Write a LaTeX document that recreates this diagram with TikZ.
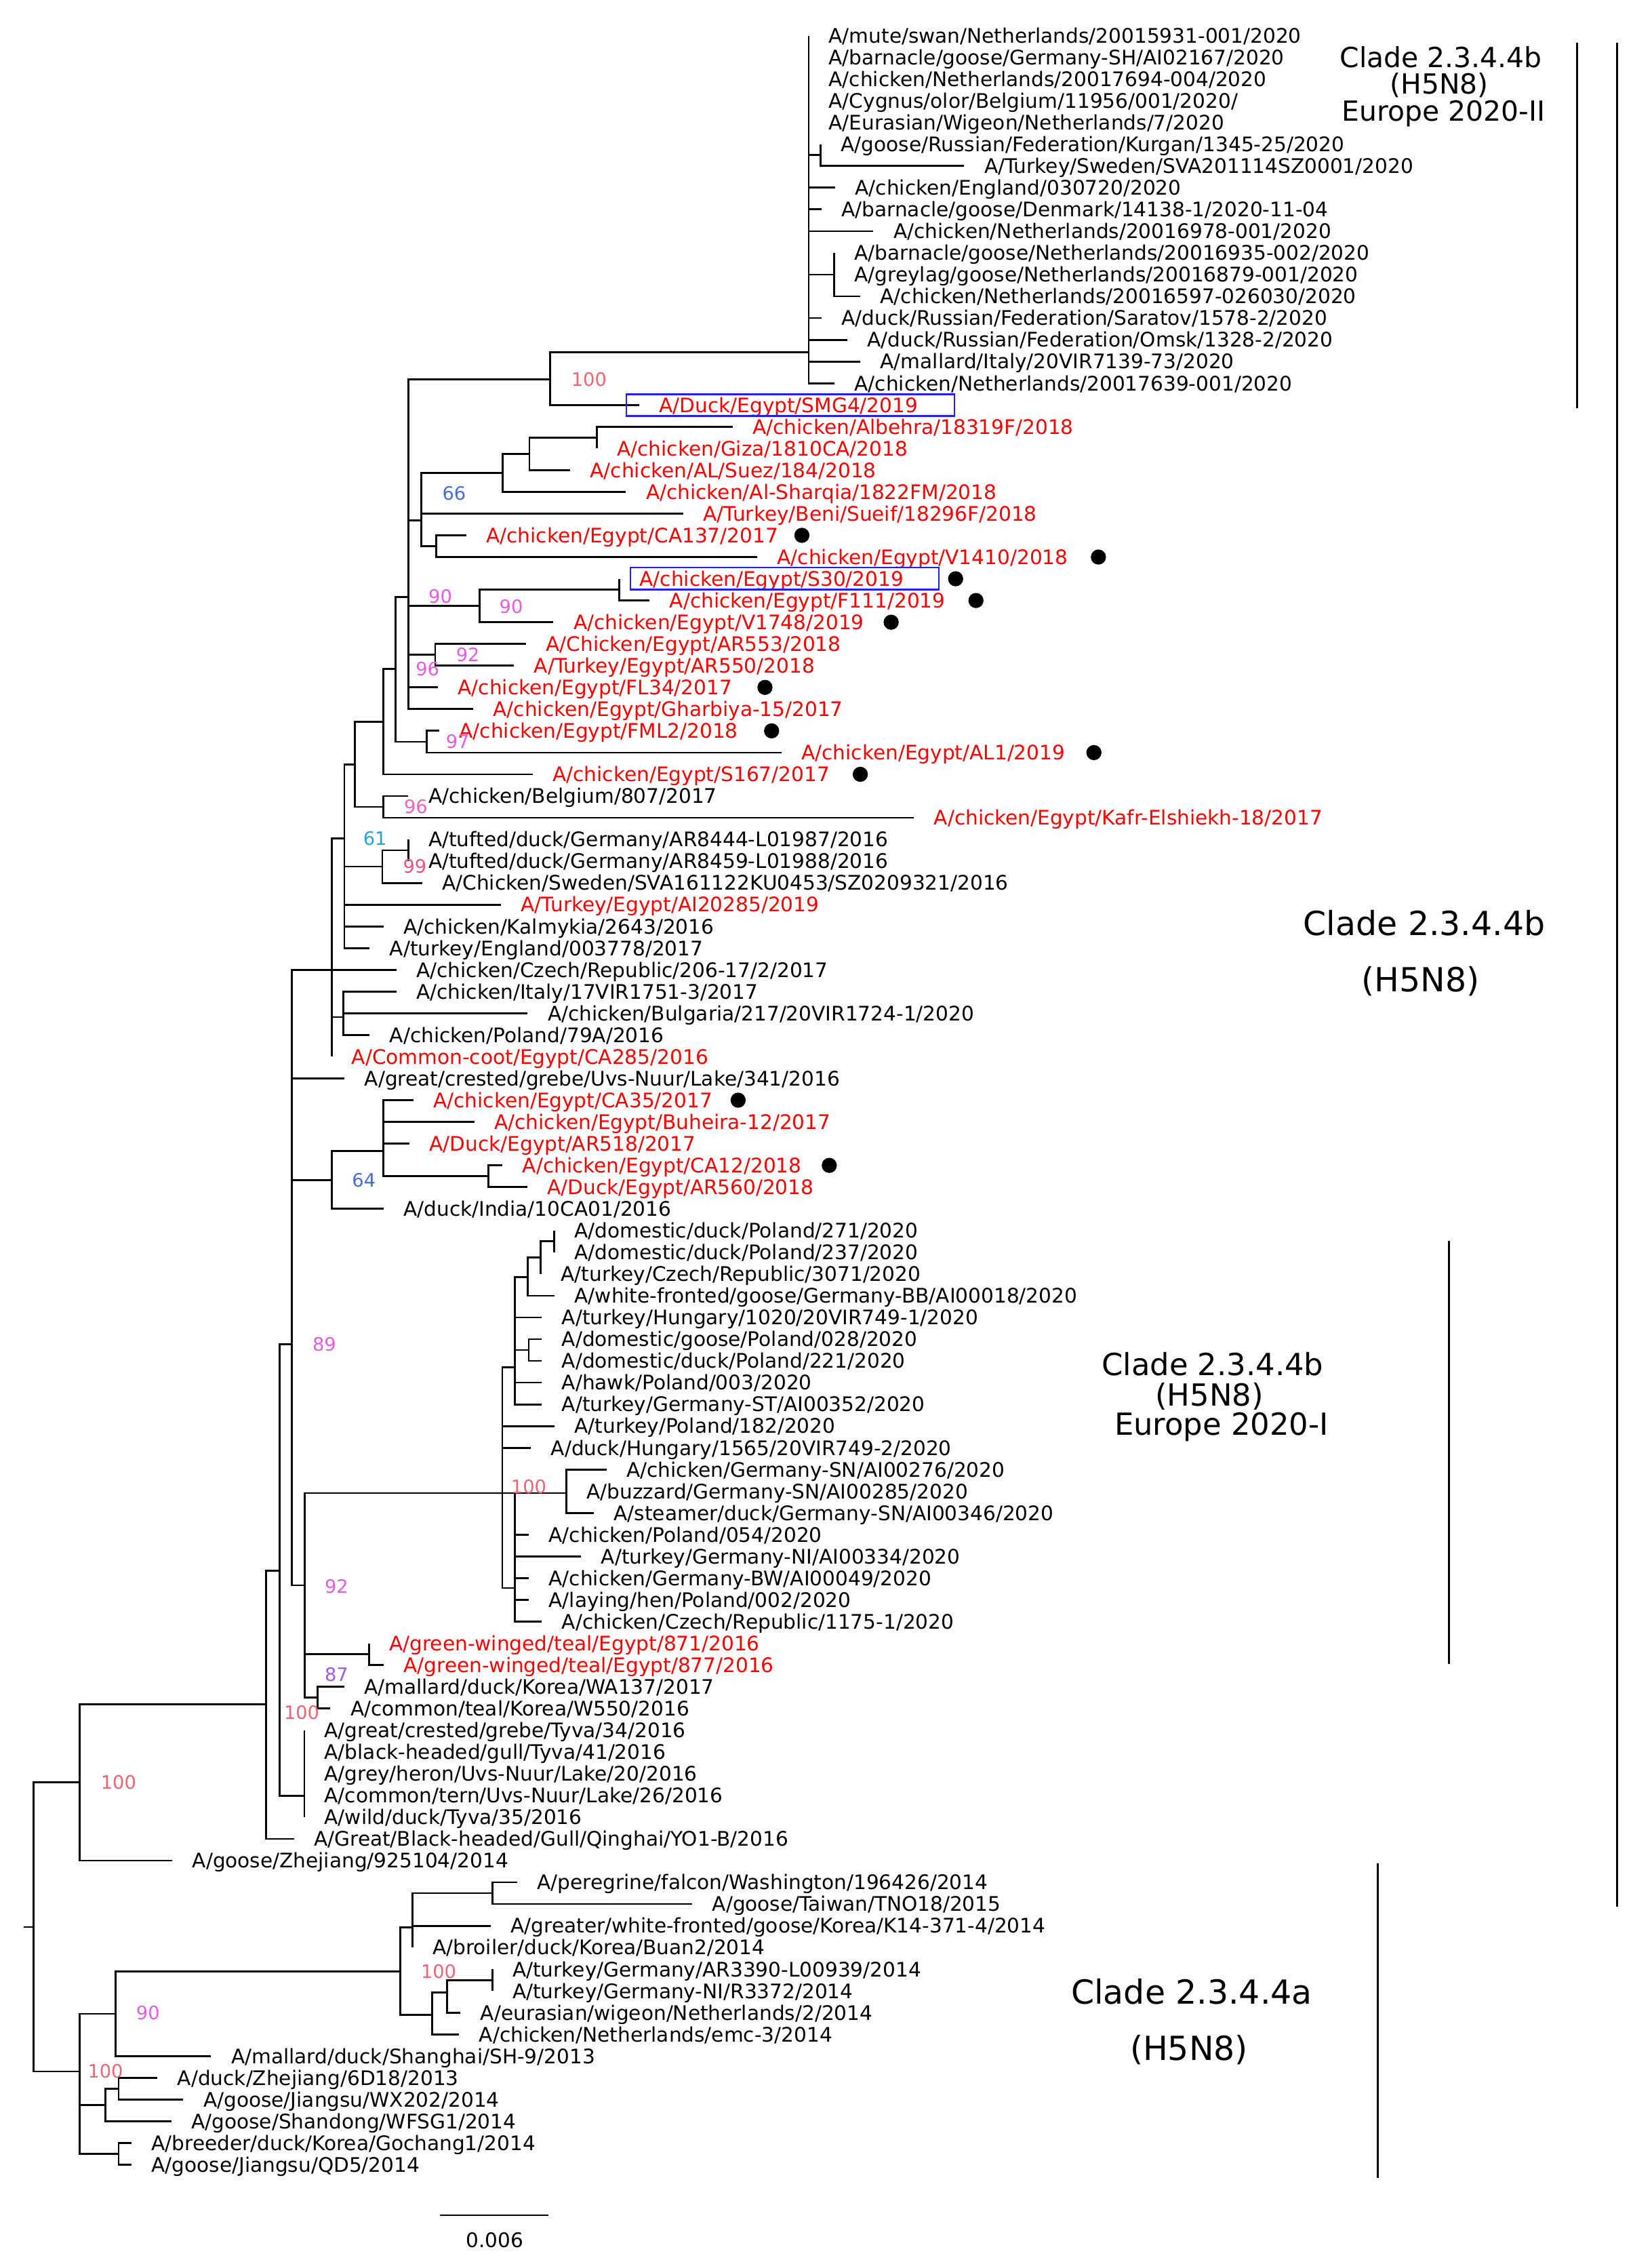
\documentclass[tikz,border=0pt]{standalone}
\usepackage{fontspec}
\setmainfont{DejaVu Sans}
\definecolor{egred}{RGB}{255,0,0}
\definecolor{bsred}{RGB}{240,100,115}
\definecolor{bsblue}{RGB}{70,110,210}
\definecolor{bslblue}{RGB}{40,160,220}
\definecolor{bsmag}{RGB}{230,90,230}
\definecolor{bspurp}{RGB}{160,90,230}
\definecolor{bspink}{RGB}{235,100,190}
\definecolor{bsrose}{RGB}{240,80,130}
\definecolor{boxblue}{RGB}{30,30,255}
\newcommand{\brs}[2]{\foreach \c in {#2} {\draw[br] (#1) |- (\c);}}
\tikzset{
  br/.style={line width=1.3pt, line join=miter, black},
  lf/.style={anchor=west, inner xsep=13.8pt, inner ysep=0pt, text height=10.15pt, text depth=0pt, font=\fontsize{13.9}{16}\selectfont, text=black},
  rl/.style={lf, text=egred},
  bs/.style={anchor=base, inner sep=0pt, font=\fontsize{12.8}{14}\selectfont},
  dotn/.style={circle, fill=black, minimum size=10.5pt, inner sep=0pt},
  bar/.style={line width=1.4pt, black},
  hbox/.style={line width=1.2pt, boxblue},
  clade/.style={anchor=base, inner sep=0pt, text=black}
}
\begin{document}
\begin{tikzpicture}[x=1pt,y=-1pt]
\useasboundingbox (0,0) rectangle (1145,1568);
% internal nodes
\coordinate (root) at (23.3,1335.75);
\coordinate (rstub) at (16.3,1335.75);
\coordinate (B100) at (55.2,1235.6);
\coordinate (S) at (184.6,1181.5);
\coordinate (R) at (193.8,1088.7);
\coordinate (M) at (202.3,931.7);
\coordinate (K) at (229.9,672.3);
\coordinate (J) at (238.8,581.0);
\coordinate (I) at (246.0,529.8);
\coordinate (H) at (265.7,500.3);
\coordinate (F) at (274.1,463.8);
\coordinate (E) at (283.2,413.9);
\coordinate (P) at (381.3,263.0);
\coordinate (T) at (560.7,244.3);
\coordinate (T67) at (569.1,107.53);
\coordinate (T1113) at (578.5,190.36);
\coordinate (N66) at (292.1,360.6);
\coordinate (G1) at (348.4,328.0);
\coordinate (G1a) at (367.1,314.8);
\coordinate (G1b) at (413.9,303.31);
\coordinate (G2) at (302.4,378.61);
\coordinate (N90a) at (332.4,420.0);
\coordinate (N90b) at (429.5,408.73);
\coordinate (N92) at (301.7,453.91);
\coordinate (N97) at (295.7,514.15);
\coordinate (N96b) at (265.8,559.33);
\coordinate (N61) at (265.1,600.73);
\coordinate (N99) at (283.1,589.45);
\coordinate (L) at (238.2,705.0);
\coordinate (N64) at (229.9,818.2);
\coordinate (N64a) at (265.8,797.8);
\coordinate (N64b) at (338.7,815.35);
\coordinate (Q) at (211.3,1098.9);
\coordinate (EU1) at (348.3,1035.0);
\coordinate (EU1a) at (357.1,947.8);
\coordinate (EU1c) at (366.0,885.4);
\coordinate (EU1e) at (375.0,871.8);
\coordinate (EU1f) at (384.4,860.53);
\coordinate (EU1d) at (366.6,935.83);
\coordinate (EU1b) at (357.1,1100.8);
\coordinate (EU1g) at (392.8,1035.0);
\coordinate (TE) at (256.0,1146.67);
\coordinate (N87) at (220.3,1176.79);
\coordinate (Ty) at (211.0,1244.9);
\coordinate (A) at (55.2,1435.9);
\coordinate (A90) at (80.3,1395.9);
\coordinate (A4) at (277.5,1366.5);
\coordinate (A5) at (286.0,1336.0);
\coordinate (A5a) at (341.4,1312.33);
\coordinate (A6) at (299.5,1396.5);
\coordinate (A6a) at (309.9,1381.0);
\coordinate (A6b) at (341.4,1372.57);
\coordinate (A2) at (73.1,1459.2);
\coordinate (A2a) at (82.3,1447.87);
\coordinate (A3) at (82.3,1493.05);
% leaves
\node[lf] (l1) at (560.7,24.70) {A/mute/swan/Netherlands/20015931-001/2020};
\node[lf] (l2) at (560.7,39.76) {A/barnacle/goose/Germany-SH/AI02167/2020};
\node[lf] (l3) at (560.7,54.82) {A/chicken/Netherlands/20017694-004/2020};
\node[lf] (l4) at (560.7,69.88) {A/Cygnus/olor/Belgium/11956/001/2020/};
\node[lf] (l5) at (560.7,84.94) {A/Eurasian/Wigeon/Netherlands/7/2020};
\node[lf] (l6) at (569.1,100.00) {A/goose/Russian/Federation/Kurgan/1345-25/2020};
\node[lf] (l7) at (668.5,115.06) {A/Turkey/Sweden/SVA201114SZ0001/2020};
\node[lf] (l8) at (579.0,130.12) {A/chicken/England/030720/2020};
\node[lf] (l9) at (569.5,145.18) {A/barnacle/goose/Denmark/14138-1/2020-11-04};
\node[lf] (l10) at (605.6,160.24) {A/chicken/Netherlands/20016978-001/2020};
\node[lf] (l11) at (578.5,175.30) {A/barnacle/goose/Netherlands/20016935-002/2020};
\node[lf] (l12) at (578.5,190.36) {A/greylag/goose/Netherlands/20016879-001/2020};
\node[lf] (l13) at (596.4,205.42) {A/chicken/Netherlands/20016597-026030/2020};
\node[lf] (l14) at (569.5,220.48) {A/duck/Russian/Federation/Saratov/1578-2/2020};
\node[lf] (l15) at (587.4,235.54) {A/duck/Russian/Federation/Omsk/1328-2/2020};
\node[lf] (l16) at (596.4,250.60) {A/mallard/Italy/20VIR7139-73/2020};
\node[lf] (l17) at (578.5,265.66) {A/chicken/Netherlands/20017639-001/2020};
\node[rl] (l18) at (443.1,280.72) {A/Duck/Egypt/SMG4/2019};
\node[rl] (l19) at (507.9,295.78) {A/chicken/Albehra/18319F/2018};
\node[rl] (l20) at (413.9,310.84) {A/chicken/Giza/1810CA/2018};
\node[rl] (l21) at (395.2,325.90) {A/chicken/AL/Suez/184/2018};
\node[rl] (l22) at (434.0,340.96) {A/chicken/Al-Sharqia/1822FM/2018};
\node[rl] (l23) at (473.6,356.02) {A/Turkey/Beni/Sueif/18296F/2018};
\node[rl] (l24) at (323.2,371.08) {A/chicken/Egypt/CA137/2017};
\node[rl] (l25) at (525.0,386.14) {A/chicken/Egypt/V1410/2018};
\node[rl] (l26) at (429.5,401.20) {A/chicken/Egypt/S30/2019};
\node[rl] (l27) at (450.3,416.26) {A/chicken/Egypt/F111/2019};
\node[rl] (l28) at (383.7,431.32) {A/chicken/Egypt/V1748/2019};
\node[rl] (l29) at (364.7,446.38) {A/Chicken/Egypt/AR553/2018};
\node[rl] (l30) at (356.3,461.44) {A/Turkey/Egypt/AR550/2018};
\node[rl] (l31) at (303.6,476.50) {A/chicken/Egypt/FL34/2017};
\node[rl] (l32) at (328.0,491.56) {A/chicken/Egypt/Gharbiya-15/2017};
\node[rl] (l33) at (304.5,506.62) {A/chicken/Egypt/FML2/2018};
\node[rl] (l34) at (541.8,521.68) {A/chicken/Egypt/AL1/2019};
\node[rl] (l35) at (369.3,536.74) {A/chicken/Egypt/S167/2017};
\node[lf] (l36) at (283.1,551.80) {A/chicken/Belgium/807/2017};
\node[rl] (l37) at (633.6,566.86) {A/chicken/Egypt/Kafr-Elshiekh-18/2017};
\node[lf] (l38) at (283.1,581.92) {A/tufted/duck/Germany/AR8444-L01987/2016};
\node[lf] (l39) at (283.1,596.98) {A/tufted/duck/Germany/AR8459-L01988/2016};
\node[lf] (l40) at (292.6,612.04) {A/Chicken/Sweden/SVA161122KU0453/SZ0209321/2016};
\node[rl] (l41) at (347.2,627.10) {A/Turkey/Egypt/AI20285/2019};
\node[lf] (l42) at (265.8,642.16) {A/chicken/Kalmykia/2643/2016};
\node[lf] (l43) at (256.2,657.22) {A/turkey/England/003778/2017};
\node[lf] (l44) at (274.8,672.28) {A/chicken/Czech/Republic/206-17/2/2017};
\node[lf] (l45) at (274.8,687.34) {A/chicken/Italy/17VIR1751-3/2017};
\node[lf] (l46) at (365.9,702.40) {A/chicken/Bulgaria/217/20VIR1724-1/2020};
\node[lf] (l47) at (256.2,717.46) {A/chicken/Poland/79A/2016};
\node[rl] (l48) at (229.9,732.52) {A/Common-coot/Egypt/CA285/2016};
\node[lf] (l49) at (238.8,747.58) {A/great/crested/grebe/Uvs-Nuur/Lake/341/2016};
\node[rl] (l50) at (286.5,762.64) {A/chicken/Egypt/CA35/2017};
\node[rl] (l51) at (328.8,777.70) {A/chicken/Egypt/Buheira-12/2017};
\node[rl] (l52) at (283.8,792.76) {A/Duck/Egypt/AR518/2017};
\node[rl] (l53) at (348.3,807.82) {A/chicken/Egypt/CA12/2018};
\node[rl] (l54) at (365.6,822.88) {A/Duck/Egypt/AR560/2018};
\node[lf] (l55) at (265.8,837.94) {A/duck/India/10CA01/2016};
\node[lf] (l56) at (384.4,853.00) {A/domestic/duck/Poland/271/2020};
\node[lf] (l57) at (384.4,868.06) {A/domestic/duck/Poland/237/2020};
\node[lf] (l58) at (375.0,883.12) {A/turkey/Czech/Republic/3071/2020};
\node[lf] (l59) at (384.4,898.18) {A/white-fronted/goose/Germany-BB/AI00018/2020};
\node[lf] (l60) at (375.6,913.24) {A/turkey/Hungary/1020/20VIR749-1/2020};
\node[lf] (l61) at (375.6,928.30) {A/domestic/goose/Poland/028/2020};
\node[lf] (l62) at (375.6,943.36) {A/domestic/duck/Poland/221/2020};
\node[lf] (l63) at (375.6,958.42) {A/hawk/Poland/003/2020};
\node[lf] (l64) at (375.6,973.48) {A/turkey/Germany-ST/AI00352/2020};
\node[lf] (l65) at (384.4,988.54) {A/turkey/Poland/182/2020};
\node[lf] (l66) at (368.1,1003.60) {A/duck/Hungary/1565/20VIR749-2/2020};
\node[lf] (l67) at (420.5,1018.66) {A/chicken/Germany-SN/AI00276/2020};
\node[lf] (l68) at (392.8,1033.72) {A/buzzard/Germany-SN/AI00285/2020};
\node[lf] (l69) at (411.7,1048.78) {A/steamer/duck/Germany-SN/AI00346/2020};
\node[lf] (l70) at (366.6,1063.84) {A/chicken/Poland/054/2020};
\node[lf] (l71) at (402.9,1078.90) {A/turkey/Germany-NI/AI00334/2020};
\node[lf] (l72) at (366.6,1093.96) {A/chicken/Germany-BW/AI00049/2020};
\node[lf] (l73) at (366.6,1109.02) {A/laying/hen/Poland/002/2020};
\node[lf] (l74) at (375.6,1124.08) {A/chicken/Czech/Republic/1175-1/2020};
\node[rl] (l75) at (256.0,1139.14) {A/green-winged/teal/Egypt/871/2016};
\node[rl] (l76) at (265.9,1154.20) {A/green-winged/teal/Egypt/877/2016};
\node[lf] (l77) at (238.6,1169.26) {A/mallard/duck/Korea/WA137/2017};
\node[lf] (l78) at (229.1,1184.32) {A/common/teal/Korea/W550/2016};
\node[lf] (l79) at (211.0,1199.38) {A/great/crested/grebe/Tyva/34/2016};
\node[lf] (l80) at (211.0,1214.44) {A/black-headed/gull/Tyva/41/2016};
\node[lf] (l81) at (211.0,1229.50) {A/grey/heron/Uvs-Nuur/Lake/20/2016};
\node[lf] (l82) at (211.0,1244.56) {A/common/tern/Uvs-Nuur/Lake/26/2016};
\node[lf] (l83) at (211.0,1259.62) {A/wild/duck/Tyva/35/2016};
\node[lf] (l84) at (203.8,1274.68) {A/Great/Black-headed/Gull/Qinghai/YO1-B/2016};
\node[lf] (l85) at (119.4,1289.74) {A/goose/Zhejiang/925104/2014};
\node[lf] (l86) at (358.6,1304.80) {A/peregrine/falcon/Washington/196426/2014};
\node[lf] (l87) at (479.9,1319.86) {A/goose/Taiwan/TNO18/2015};
\node[lf] (l88) at (340.2,1334.92) {A/greater/white-fronted/goose/Korea/K14-371-4/2014};
\node[lf] (l89) at (286.0,1349.98) {A/broiler/duck/Korea/Buan2/2014};
\node[lf] (l90) at (341.4,1365.04) {A/turkey/Germany/AR3390-L00939/2014};
\node[lf] (l91) at (341.4,1380.10) {A/turkey/Germany-NI/R3372/2014};
\node[lf] (l92) at (319.2,1395.16) {A/eurasian/wigeon/Netherlands/2/2014};
\node[lf] (l93) at (318.3,1410.22) {A/chicken/Netherlands/emc-3/2014};
\node[lf] (l94) at (146.3,1425.28) {A/mallard/duck/Shanghai/SH-9/2013};
\node[lf] (l95) at (109.1,1440.34) {A/duck/Zhejiang/6D18/2013};
\node[lf] (l96) at (127.1,1455.40) {A/goose/Jiangsu/WX202/2014};
\node[lf] (l97) at (118.7,1470.46) {A/goose/Shandong/WFSG1/2014};
\node[lf] (l98) at (91.1,1485.52) {A/breeder/duck/Korea/Gochang1/2014};
\node[lf] (l99) at (91.1,1500.58) {A/goose/Jiangsu/QD5/2014};
% branches
\draw[br] (rstub) -- (root);
\brs{root}{B100,A}
\brs{B100}{S,l85.west}
\brs{S}{R,l84.west}
\brs{R}{M,Ty}
\brs{M}{K,l49.west,N64,Q}
\brs{K}{J,l44.west,L,l48.west}
\brs{J}{I,N61,l41.west,l42.west,l43.west}
\brs{I}{H,N96b}
\brs{H}{F,l35.west}
\brs{F}{E,N97}
\brs{E}{P,N66,N90a,N92,l31.west,l32.west}
\brs{P}{T,l18.west}
\brs{T}{l1.west,l2.west,l3.west,l4.west,l5.west,T67,l8.west,l9.west,l10.west,T1113,l14.west,l15.west,l16.west,l17.west}
\brs{T67}{l6.west,l7.west}
\brs{T1113}{l11.west,l12.west,l13.west}
\brs{N66}{G1,l23.west,G2}
\brs{G1}{G1a,l22.west}
\brs{G1a}{G1b,l21.west}
\brs{G1b}{l19.west,l20.west}
\brs{G2}{l24.west,l25.west}
\brs{N90a}{N90b,l28.west}
\brs{N90b}{l26.west,l27.west}
\brs{N92}{l29.west,l30.west}
\brs{N97}{l33.west,l34.west}
\brs{N96b}{l36.west,l37.west}
\brs{N61}{N99,l40.west}
\brs{N99}{l38.west,l39.west}
\brs{L}{l45.west,l46.west,l47.west}
\brs{N64}{N64a,l55.west}
\brs{N64a}{l50.west,l51.west,l52.west,N64b}
\brs{N64b}{l53.west,l54.west}
\brs{Q}{EU1,TE,N87}
\brs{EU1}{EU1a,l65.west,l66.west,EU1b}
\draw[br] (EU1) -- (EU1 -| EU1b);
\brs{EU1a}{EU1c,l60.west,EU1d,l63.west,l64.west}
\brs{EU1c}{EU1e,l59.west}
\brs{EU1e}{EU1f,l58.west}
\brs{EU1f}{l56.west,l57.west}
\brs{EU1d}{l61.west,l62.west}
\brs{EU1b}{EU1g,l70.west,l71.west,l72.west,l73.west,l74.west}
\brs{EU1g}{l67.west,l68.west,l69.west}
\brs{TE}{l75.west,l76.west}
\brs{N87}{l77.west,l78.west}
\brs{Ty}{l79.west,l80.west,l81.west,l82.west,l83.west}
\brs{A}{A90,A2,A3}
\brs{A90}{A4,l94.west}
\brs{A4}{A5,A6}
\brs{A5}{A5a,l88.west,l89.west}
\brs{A5a}{l86.west,l87.west}
\brs{A6}{A6a,l93.west}
\brs{A6a}{A6b,l92.west}
\brs{A6b}{l90.west,l91.west}
\brs{A2}{A2a,l97.west}
\brs{A2a}{l95.west,l96.west}
\brs{A3}{l98.west,l99.west}
% highlight boxes
\draw[hbox] (434.3,273.2) rectangle (661.8,288.4);
\draw[hbox] (437.2,393.5) rectangle (650.9,408.8);
% dots
\node[dotn] (d24) at (556.0,371.08) {};
\node[dotn] (d25) at (761.6,386.14) {};
\node[dotn] (d26) at (662.6,401.20) {};
\node[dotn] (d27) at (676.7,416.26) {};
\node[dotn] (d28) at (617.9,431.32) {};
\node[dotn] (d31) at (530.4,476.50) {};
\node[dotn] (d33) at (535.0,506.62) {};
\node[dotn] (d34) at (758.5,521.68) {};
\node[dotn] (d35) at (596.5,536.74) {};
\node[dotn] (d50) at (511.8,762.64) {};
\node[dotn] (d53) at (575.0,807.82) {};
% bootstrap values
\node[bs,text=bsred] (b1) at (408.4,267.7) {100};
\node[bs,text=bsblue] (b2) at (314.9,346.8) {66};
\node[bs,text=bsmag] (b3) at (305.3,418.2) {90};
\node[bs,text=bsmag] (b4) at (354.4,425.1) {90};
\node[bs,text=bsmag] (b5) at (324.4,458.7) {92};
\node[bs,text=bsmag] (b6) at (296.4,468.6) {96};
\node[bs,text=bsmag] (b7) at (317.3,518.9) {97};
\node[bs,text=bspink] (b8) at (288.3,563.7) {96};
\node[bs,text=bslblue] (b9) at (260.0,585.7) {61};
\node[bs,text=bsrose] (b10) at (287.6,605.2) {99};
\node[bs,text=bsblue] (b11) at (252.3,822.9) {64};
\node[bs,text=bsmag] (b12) at (224.9,936.4) {89};
\node[bs,text=bsred] (b13) at (366.6,1035.4) {100};
\node[bs,text=bsmag] (b14) at (233.3,1104.3) {92};
\node[bs,text=bspurp] (b15) at (233.3,1165.4) {87};
\node[bs,text=bsred] (b16) at (209.2,1191.8) {100};
\node[bs,text=bsred] (b17) at (82.2,1240.1) {100};
\node[bs,text=bsred] (b18) at (304.1,1371.3) {100};
\node[bs,text=bsmag] (b19) at (102.6,1400.1) {90};
\node[bs,text=bsred] (b20) at (73.1,1440.6) {100};
% clade bars
\draw[bar] (1093.6,29.8) -- (1093.6,283.0);
\draw[bar] (1121.3,29.8) -- (1121.3,1321.5);
\draw[bar] (1004.5,860.2) -- (1004.5,1153.5);
\draw[bar] (955.3,1291.6) -- (955.3,1509.8);
% clade labels
\node[clade,font=\fontsize{19.2}{20}\selectfont] (c1a) at (999,47.0) {Clade 2.3.4.4b};
\node[clade,font=\fontsize{19.2}{20}\selectfont] (c1b) at (998,65.0) {(H5N8)};
\node[clade,font=\fontsize{19.2}{20}\selectfont] (c1c) at (1001,83.8) {Europe 2020-II};
\node[clade,font=\fontsize{23}{24}\selectfont] (c2a) at (987.5,648.4) {Clade 2.3.4.4b};
\node[clade,font=\fontsize{23}{24}\selectfont] (c2b) at (985,687.6) {(H5N8)};
\node[clade,font=\fontsize{21.1}{22}\selectfont] (c3a) at (840.8,953.4) {Clade 2.3.4.4b};
\node[clade,font=\fontsize{21.1}{22}\selectfont] (c3b) at (838.6,974.5) {(H5N8)};
\node[clade,font=\fontsize{21.1}{22}\selectfont] (c3c) at (847.0,995.0) {Europe 2020-I};
\node[clade,font=\fontsize{23}{24}\selectfont] (c4a) at (826.3,1389.0) {Clade 2.3.4.4a};
\node[clade,font=\fontsize{23}{24}\selectfont] (c4b) at (824.4,1428.1) {(H5N8)};
% scale bar
\coordinate (sb1) at (305.2,1535.5);
\coordinate (sb2) at (380.4,1535.5);
\draw[line width=1.3pt] (sb1) -- (sb2);
\node[clade,font=\fontsize{13.9}{16}\selectfont] (sbl) at (343.1,1557.8) {0.006};
\end{tikzpicture}
\end{document}
